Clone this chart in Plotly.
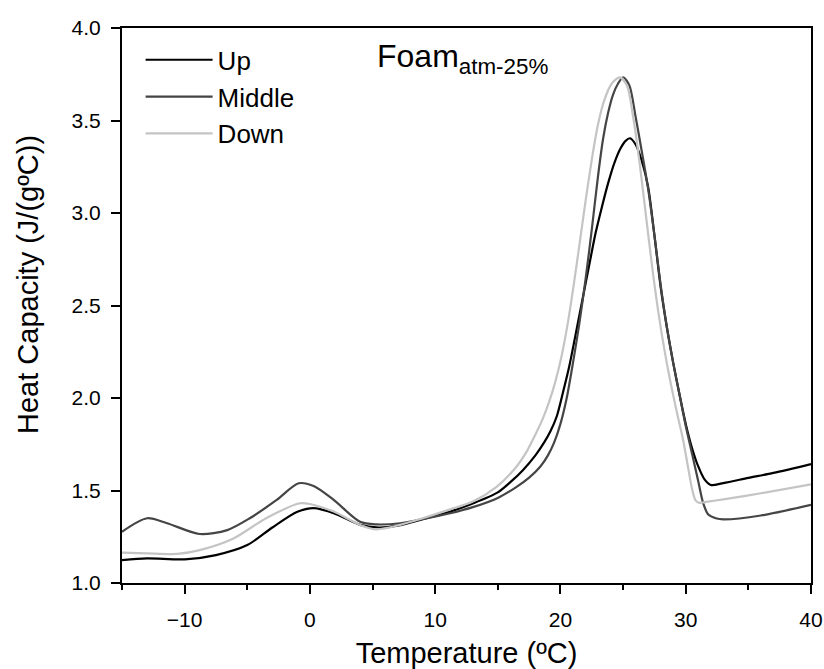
import plotly.graph_objects as go

# ---- data ----
up_x = [-15, -13, -10, -7.5, -5, -3, -1, 0.3, 2, 4, 5.5, 7, 9, 11.2, 13, 15, 16, 17, 18, 18.7,
        19.2, 19.7, 20.2, 20.7, 21.2, 21.75, 22.3, 22.8, 23.3, 23.8, 24.3, 24.8, 25.2, 25.55,
        26.0, 26.5, 27.0, 27.5, 28.0, 28.5, 29.0, 29.5, 30.0, 30.5, 31.0, 31.5, 32.0,
        33, 35, 37, 40]
up_y = [1.124, 1.133, 1.128, 1.151, 1.205, 1.30, 1.385, 1.405, 1.375, 1.314, 1.30, 1.31,
        1.345, 1.386, 1.43, 1.49, 1.545, 1.61, 1.69, 1.76,
        1.82, 1.90, 2.03, 2.17, 2.34, 2.53, 2.72, 2.89, 3.03, 3.16, 3.27, 3.35, 3.39, 3.404,
        3.37, 3.28, 3.14, 2.88, 2.60, 2.38, 2.19, 2.02, 1.86, 1.73, 1.63, 1.56, 1.53,
        1.54, 1.568, 1.595, 1.643]

mid_x = [-15, -13, -11.4, -8.8, -6.6, -4.8, -2.65, -0.9, 0.3, 1.9, 4, 5.3, 7.2, 9, 11.2, 13,
         15, 16.5, 17.5, 18.4, 19.0, 19.5, 20.0, 20.5, 21.0, 21.5, 22.0, 22.5, 23.0, 23.4,
         23.8, 24.2, 24.6, 25.0, 25.5, 26.0, 26.5, 27.0, 27.5, 28.0, 28.5, 29.0, 29.5, 30.0,
         30.5, 31.0, 31.4, 31.8, 32.4, 33, 36, 40]
mid_y = [1.277, 1.35, 1.323, 1.265, 1.286, 1.35, 1.449, 1.539, 1.524, 1.449, 1.331, 1.317,
         1.323, 1.345, 1.377, 1.41, 1.46, 1.52, 1.57, 1.63, 1.69, 1.76, 1.86, 2.00, 2.19,
         2.40, 2.64, 2.91, 3.20, 3.40, 3.54, 3.64, 3.70, 3.733, 3.69, 3.52, 3.33, 3.13,
         2.88, 2.61, 2.38, 2.19, 2.02, 1.85, 1.70, 1.55, 1.43, 1.37, 1.35, 1.344, 1.365, 1.422]

down_x = [-15, -13, -10.6, -8.8, -6.1, -3.5, -0.8, 0, 1.9, 4, 5.3, 7.2, 9, 11.2, 13, 14.9,
          16.5, 17.3, 18.05, 18.6, 19.1, 19.6, 20.1, 20.6, 21.1, 21.6, 22.1, 22.6, 23.0,
          23.5, 24.1, 24.75, 25.3, 25.8, 26.3, 26.8, 27.3, 27.8, 28.3, 28.8, 29.3, 29.8,
          30.2, 30.5, 30.8, 31.1, 31.5, 33, 36, 40]
down_y = [1.164, 1.160, 1.157, 1.178, 1.241, 1.35, 1.431, 1.427, 1.386, 1.314, 1.29, 1.314,
          1.35, 1.398, 1.44, 1.52, 1.63, 1.71, 1.81, 1.89, 1.98, 2.09, 2.23, 2.41, 2.63,
          2.87, 3.11, 3.33, 3.48, 3.61, 3.70, 3.733, 3.69, 3.52, 3.28, 3.00, 2.72, 2.47,
          2.26, 2.08, 1.92, 1.77, 1.62, 1.51, 1.445, 1.433, 1.437, 1.452, 1.485, 1.533]

series_names = ["Up", "Middle", "Down"]
series_colors = ["#000000", "#454545", "#c4c4c4"]

x_ticks = [-10, 0, 10, 20, 30, 40]
y_ticks = [1.0, 1.5, 2.0, 2.5, 3.0, 3.5, 4.0]

FONT = "Liberation Sans, Arial, sans-serif"

fig = go.Figure()
for name, xs, ys, col in zip(series_names, [up_x, mid_x, down_x], [up_y, mid_y, down_y], series_colors):
    fig.add_trace(go.Scatter(x=xs, y=ys, mode="lines", name=name,
                             line=dict(color=col, width=2.2, shape="spline", smoothing=0.8)))

fig.update_layout(
    width=824, height=669,
    margin=dict(l=122, r=13, t=28, b=86, autoexpand=False),
    paper_bgcolor="white", plot_bgcolor="white",
    font=dict(family=FONT, color="black", size=21),
    showlegend=True,
    legend=dict(x=0.027, y=0.985, xanchor="left", yanchor="top",
                font=dict(size=26, family=FONT, color="black"),
                bgcolor="rgba(0,0,0,0)", itemwidth=67, tracegroupgap=0),
    annotations=[
        dict(x=5.2, y=3.955, xref="x", yref="y", xanchor="left", yanchor="top",
             text="Foam<sub>atm-25%</sub>", showarrow=False,
             font=dict(size=32, family=FONT, color="black")),
        dict(x=-(122 - 28) / 689, y=(583 - 285) / 555, xref="paper", yref="paper",
             xanchor="center", yanchor="middle", textangle=-90,
             text="Heat Capacity (J/(gºC))", showarrow=False,
             font=dict(size=29, family=FONT, color="black")),
    ],
)

fig.update_xaxes(range=[-15, 40], tickvals=x_ticks, ticks="outside", ticklen=9, tickwidth=1.5,
                 tickcolor="black", showline=True, linecolor="black", linewidth=2, mirror=True,
                 showgrid=False, zeroline=False, ticklabelstandoff=8, automargin=False,
                 tickfont=dict(size=21, family=FONT),
                 minor=dict(dtick=5, tick0=0, ticks="outside", ticklen=5, tickwidth=1.5,
                            tickcolor="black", showgrid=False),
                 title=dict(text="Temperature (ºC)", font=dict(size=29, family=FONT), standoff=13))

fig.update_yaxes(range=[1.0, 4.0], tickvals=y_ticks, tickformat=".1f", ticks="outside",
                 ticklen=9, tickwidth=1.5, tickcolor="black", showline=True, linecolor="black",
                 linewidth=2, mirror=True, showgrid=False, zeroline=False, ticklabelstandoff=6,
                 automargin=False, tickfont=dict(size=21, family=FONT))

fig.write_html("out.html")
